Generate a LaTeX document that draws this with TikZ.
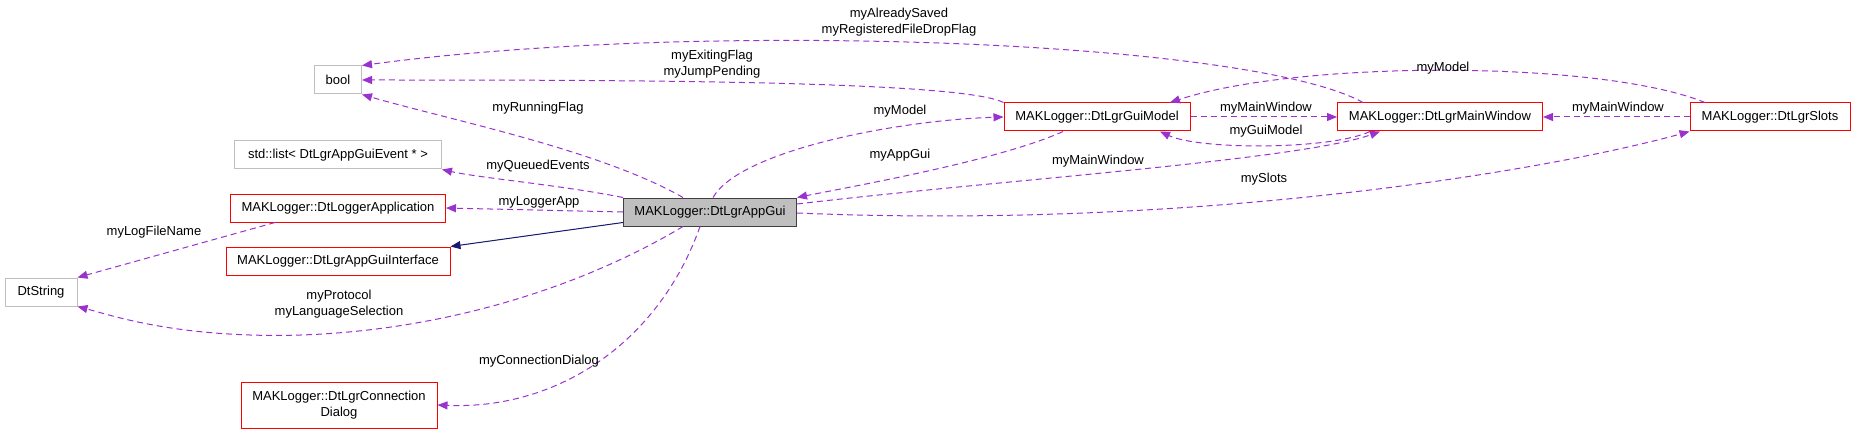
\documentclass[tikz,border=0pt]{standalone}
\usepackage{fontspec}
\setmainfont{Liberation Sans}
\usetikzlibrary{arrows.meta}
\definecolor{edgep}{HTML}{9A32CD}
\definecolor{inh}{HTML}{191970}
\definecolor{gbord}{HTML}{BFBFBF}
\begin{document}
\begin{tikzpicture}[x=1pt,y=-1pt,
  every node/.style={font=\fontsize{13}{16}\selectfont},
  box/.style={draw, line width=1pt, inner sep=0pt, minimum height=28pt, align=center},
  rbox/.style={box, draw=red},
  gbox/.style={box, draw=gbord},
  mbox/.style={box, draw=black!75, fill=gbord},
  rel/.style={draw=edgep, dashed, dash pattern=on 6pt off 4pt, line width=1pt, -{Triangle[length=10pt,width=8pt,fill=edgep]}},
  lbl/.style={inner sep=0pt, align=center}]
\useasboundingbox (0,0) rectangle (1853,433);
\node[gbox, minimum width=47pt] (bool) at (338,80) {bool};
\node[gbox, minimum width=207pt] (list) at (338,155) {std::list< DtLgrAppGuiEvent * >};
\node[rbox, minimum width=215pt] (logapp) at (338,208) {MAKLogger::DtLoggerApplication};
\node[rbox, minimum width=224pt] (iface) at (338,261) {MAKLogger::DtLgrAppGuiInterface};
\node[gbox, minimum width=72pt] (str) at (41,292) {DtString};
\node[rbox, minimum width=196pt, minimum height=46pt] (conn) at (339,405) {MAKLogger::DtLgrConnection\\Dialog};
\node[mbox, minimum width=173pt] (app) at (710,212) {MAKLogger::DtLgrAppGui};
\node[rbox, minimum width=186pt] (model) at (1097,117) {MAKLogger::DtLgrGuiModel};
\node[rbox, minimum width=205pt] (win) at (1440,117) {MAKLogger::DtLgrMainWindow};
\node[rbox, minimum width=160pt] (slots) at (1770,117) {MAKLogger::DtLgrSlots};

% edges
\draw[rel] (app.north west -| 683,0) .. controls (600,150) and (450,120) .. (bool.south east);
\draw[rel] (model.north west) .. controls (960,80) and (600,80) .. (bool.east);
\draw[rel] (win.north west -| 1363,0) .. controls (1250,40) and (700,20) .. (bool.north east);
\draw[rel] (app.north west) .. controls (560,185) and (480,178) .. (list.south east);
\draw[rel] (app.west) -- (logapp.east);
\draw[-{Triangle[length=10pt,width=8pt]}, draw=inh, fill=inh, line width=1pt] (app.south west) ++(0,-4) -- (iface.north east);
\draw[rel] (logapp.south west -| 275,0) -- (str.north east);
\draw[rel] (app.south west -| 683,0) .. controls (560,300) and (400,340) .. (250,335) .. controls (160,332) and (110,315) .. (str.south east);
\draw[rel] (app.south west -| 700,0) .. controls (660,340) and (560,410) .. (conn.east);
\draw[rel] (app.north west -| 713,0) .. controls (740,150) and (900,120) .. (model.west);
\draw[rel] (model.south west -| 1063,0) .. controls (1000,160) and (860,185) .. (app.north east);
\draw[rel] (app.east) ++(0,-8) .. controls (1000,180) and (1300,160) .. (win.south west -| 1380,0);
\draw[rel] (app.east) ++(0,1) .. controls (1200,230) and (1550,170) .. (slots.south west);
\draw[rel] (model.east) -- (win.west);
\draw[rel] (win.south west -| 1370,0) .. controls (1330,150) and (1200,150) .. (model.south east -| 1160,0);
\draw[rel] (slots.north west -| 1705,0) .. controls (1600,60) and (1300,60) .. (model.north east -| 1170,0);
\draw[rel] (slots.west) -- (win.east);

% labels
\node[lbl] (l1) at (899,22) {myAlreadySaved\\myRegisteredFileDropFlag};
\node[lbl] (l2) at (712,64) {myExitingFlag\\myJumpPending};
\node[lbl] (l3) at (538,108) {myRunningFlag};
\node[lbl] (l4) at (538,166) {myQueuedEvents};
\node[lbl] (l5) at (539,202) {myLoggerApp};
\node[lbl] (l6) at (154,232) {myLogFileName};
\node[lbl] (l7) at (339,304) {myProtocol\\myLanguageSelection};
\node[lbl] (l8) at (539,361) {myConnectionDialog};
\node[lbl] (l9) at (900,111) {myModel};
\node[lbl] (l10) at (900,155) {myAppGui};
\node[lbl] (l11) at (1098,161) {myMainWindow};
\node[lbl] (l12) at (1264,179) {mySlots};
\node[lbl] (l13) at (1266,108) {myMainWindow};
\node[lbl] (l14) at (1266,131) {myGuiModel};
\node[lbl] (l15) at (1443,68) {myModel};
\node[lbl] (l16) at (1618,108) {myMainWindow};
\end{tikzpicture}
\end{document}
